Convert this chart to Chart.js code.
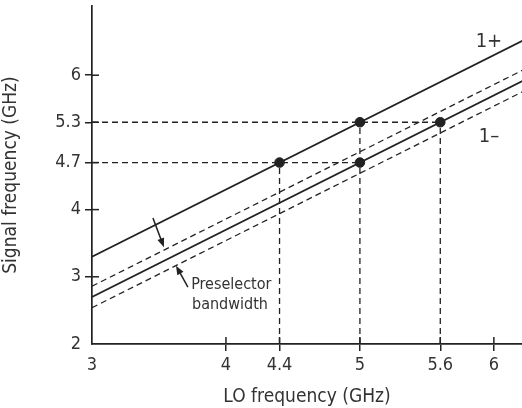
<!DOCTYPE html>
<html>
<head>
<meta charset="utf-8">
<script src="https://cdn.jsdelivr.net/npm/chart.js@4.4.1/dist/chart.umd.min.js"></script>
<style>
  html, body { margin: 0; padding: 0; background: #fff; }
  #wrap { width: 522px; height: 408px; position: relative; }
</style>
</head>
<body>
<div id="wrap"><canvas id="chart"></canvas></div>
<script>
// --- DATA ---
const xTicks = [3, 4, 4.4, 5, 5.6, 6];
const yTicks = [2, 3, 4, 4.7, 5.3, 6];

// LO range for the mixing lines (clipped at the right edge)
const loEnds = [3, 6.3];
const plusLine = [3.3, 6.6];     // 1+ response
const minusLine = [2.7, 6.0];    // 1- response
const bandHigh = [2.86, 6.16];   // preselector bandwidth, upper edge
const bandLow = [2.54, 5.84];    // preselector bandwidth, lower edge

const markerLO = [4.4, 5, 5, 5.6];
const markerSig = [4.7, 5.3, 4.7, 5.3];

// guide lines: [x1, y1, x2, y2]
const guides = [
    [3, 5.3, 5.6, 5.3],
    [3, 4.7, 5, 4.7],
    [4.4, 2, 4.4, 4.7],
    [5, 2, 5, 5.3],
    [5.6, 2, 5.6, 5.3]
];

const FONT = "'Liberation Sans Narrow', 'Arial Narrow', 'DejaVu Sans Condensed', sans-serif";
const INK = '#222';
const TEXT = '#333';

const toPts = (xs, ys) => xs.map((x, i) => ({ x, y: ys[i] }));

const lineSet = (data, dashed) => ({
    data,
    borderColor: INK,
    borderWidth: dashed ? 1.3 : 1.7,
    borderDash: dashed ? [6, 4] : [],
    pointRadius: 0,
    fill: false,
    tension: 0
});

const datasets = [
    lineSet(toPts(loEnds, plusLine), false),
    lineSet(toPts(loEnds, minusLine), false),
    lineSet(toPts(loEnds, bandHigh), true),
    lineSet(toPts(loEnds, bandLow), true)
];
guides.forEach(g => datasets.push(lineSet([{ x: g[0], y: g[1] }, { x: g[2], y: g[3] }], true)));
datasets.push({
    type: 'scatter',
    data: toPts(markerLO, markerSig),
    backgroundColor: INK,
    borderColor: INK,
    pointRadius: 4.8
});

// --- ANOTACIONES ---
const labels = [
    { text: '1+', x: 5.963, y: 6.49, size: 20 },
    { text: '1\u2013', x: 5.963, y: 5.09, size: 20 },
    { text: 'Preselector', x: 4.04, y: 2.88, size: 16 },
    { text: 'bandwidth', x: 4.03, y: 2.58, size: 16 }
];
const arrows = [
    { from: [3.455, 3.874], to: [3.537, 3.44] },
    { from: [3.716, 2.848], to: [3.627, 3.165] }
];

const extrasPlugin = {
    id: 'extras',
    afterDraw(chart) {
        const { ctx, scales: { x, y } } = chart;
        ctx.save();
        // tick marks on the inner side of each axis
        ctx.strokeStyle = INK;
        ctx.lineWidth = 1.5;
        xTicks.filter(v => v !== 3).forEach(v => {
            const px = x.getPixelForValue(v);
            ctx.beginPath();
            ctx.moveTo(px, y.bottom);
            ctx.lineTo(px, y.bottom - 7);
            ctx.stroke();
        });
        yTicks.filter(v => v !== 2).forEach(v => {
            const py = y.getPixelForValue(v);
            ctx.beginPath();
            ctx.moveTo(x.left, py);
            ctx.lineTo(x.left + 7, py);
            ctx.stroke();
        });
        // arrows
        arrows.forEach(a => {
            const x1 = x.getPixelForValue(a.from[0]), y1 = y.getPixelForValue(a.from[1]);
            const x2 = x.getPixelForValue(a.to[0]), y2 = y.getPixelForValue(a.to[1]);
            const ang = Math.atan2(y2 - y1, x2 - x1);
            ctx.strokeStyle = INK;
            ctx.lineWidth = 1.5;
            ctx.beginPath();
            ctx.moveTo(x1, y1);
            ctx.lineTo(x2 - 6 * Math.cos(ang), y2 - 6 * Math.sin(ang));
            ctx.stroke();
            ctx.fillStyle = INK;
            ctx.beginPath();
            ctx.moveTo(x2, y2);
            ctx.lineTo(x2 - 9 * Math.cos(ang) + 3.5 * Math.sin(ang), y2 - 9 * Math.sin(ang) - 3.5 * Math.cos(ang));
            ctx.lineTo(x2 - 9 * Math.cos(ang) - 3.5 * Math.sin(ang), y2 - 9 * Math.sin(ang) + 3.5 * Math.cos(ang));
            ctx.closePath();
            ctx.fill();
        });
        // text labels
        ctx.fillStyle = TEXT;
        ctx.textAlign = 'center';
        ctx.textBaseline = 'middle';
        labels.forEach(l => {
            ctx.font = l.size + 'px ' + FONT;
            ctx.fillText(l.text, x.getPixelForValue(l.x), y.getPixelForValue(l.y));
        });
        ctx.restore();
    }
};

const hideOrigin = origin => c => (c.tick && c.tick.value === origin ? 'rgba(0,0,0,0)' : INK);

new Chart(document.getElementById('chart'), {
    type: 'line',
    data: { datasets },
    options: {
        responsive: true, maintainAspectRatio: false,
        animation: false,
        layout: { autoPadding: false, padding: { top: 6, right: 0, left: 0, bottom: 0 } },
        plugins: { legend: { display: false }, tooltip: { enabled: false } },
        scales: {
            x: {
                type: 'linear', min: 3, max: 6.21,
                afterBuildTicks: s => { s.ticks = xTicks.map(v => ({ value: v })); },
                afterFit: s => { s.height = 64; s.paddingLeft = 0; s.paddingRight = 0; },
                ticks: {
                    color: TEXT, padding: 4, maxRotation: 0,
                    font: { family: FONT, size: 18 },
                    callback: v => String(v)
                },
                grid: { drawOnChartArea: false, drawTicks: true, tickLength: 7, lineWidth: 1.5, color: hideOrigin(3) },
                border: { display: true, color: INK, width: 1.7 },
                title: { display: true, text: 'LO frequency (GHz)', color: TEXT, font: { family: FONT, size: 19 }, padding: { top: 0, bottom: 0 } }
            },
            y: {
                type: 'linear', min: 2, max: 7.03,
                afterBuildTicks: s => { s.ticks = yTicks.map(v => ({ value: v })); },
                afterFit: s => { s.width = 92; s.paddingTop = 0; s.paddingBottom = 0; },
                ticks: {
                    color: TEXT, padding: 4,
                    font: { family: FONT, size: 18 },
                    callback: v => String(v)
                },
                grid: { drawOnChartArea: false, drawTicks: true, tickLength: 7, lineWidth: 1.5, color: hideOrigin(2) },
                border: { display: true, color: INK, width: 1.7 },
                title: { display: true, text: 'Signal frequency (GHz)', color: TEXT, font: { family: FONT, size: 19 }, padding: { top: 0, bottom: 0 } }
            }
        }
    },
    plugins: [extrasPlugin]
});
</script>
</body>
</html>
